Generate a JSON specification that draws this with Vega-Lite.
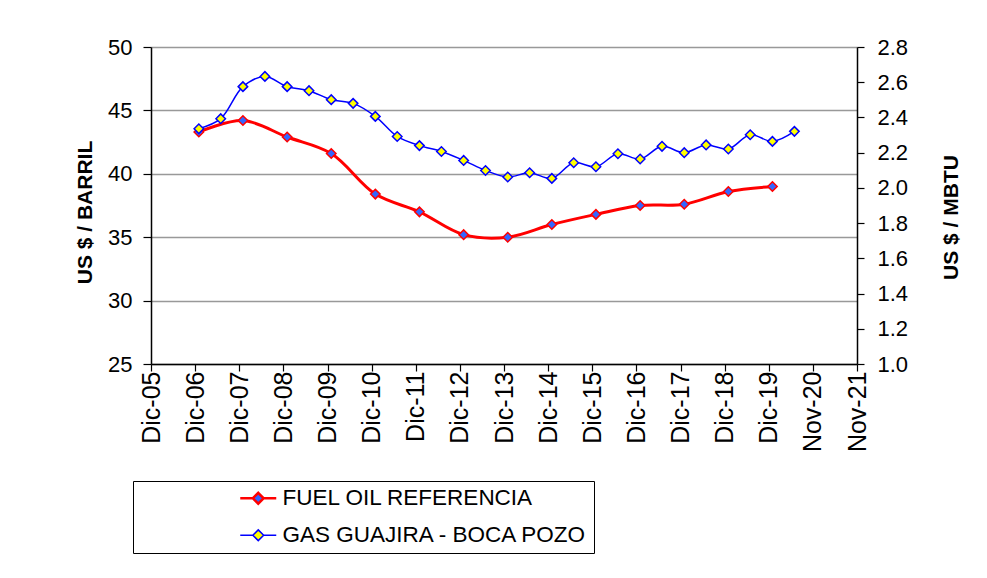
{
  "$schema": "https://vega.github.io/schema/vega-lite/v6.json",
  "width": 706,
  "height": 317,
  "autosize": "none",
  "padding": {"left": 151, "top": 47, "right": 130, "bottom": 214},
  "background": "white",
  "config": {
    "view": {"stroke": null},
    "font": "Liberation Sans",
    "axis": {"labelFont": "Liberation Sans", "labelColor": "black", "domainColor": "black", "tickColor": "black", "domainWidth": 1.5, "tickWidth": 1.2, "titleFont": "Liberation Sans", "titleColor": "black"}
  },
  "datasets": {
    "fuel": [
      {"date": "2007-01-01", "value": 43.3},
      {"date": "2008-01-01", "value": 44.2},
      {"date": "2009-01-01", "value": 42.9},
      {"date": "2010-01-01", "value": 41.6},
      {"date": "2011-01-01", "value": 38.4},
      {"date": "2012-01-01", "value": 37.0},
      {"date": "2013-01-01", "value": 35.2},
      {"date": "2014-01-01", "value": 35.0},
      {"date": "2015-01-01", "value": 36.0},
      {"date": "2016-01-01", "value": 36.8},
      {"date": "2017-01-01", "value": 37.5},
      {"date": "2018-01-01", "value": 37.6},
      {"date": "2019-01-01", "value": 38.6},
      {"date": "2020-01-01", "value": 39.0}
    ],
    "gas": [
      {"date": "2007-01-01", "value": 2.336},
      {"date": "2007-07-01", "value": 2.393},
      {"date": "2008-01-01", "value": 2.575},
      {"date": "2008-07-01", "value": 2.633},
      {"date": "2009-01-01", "value": 2.575},
      {"date": "2009-07-01", "value": 2.552},
      {"date": "2010-01-01", "value": 2.501},
      {"date": "2010-07-01", "value": 2.480},
      {"date": "2011-01-01", "value": 2.406},
      {"date": "2011-07-01", "value": 2.292},
      {"date": "2012-01-01", "value": 2.240},
      {"date": "2012-07-01", "value": 2.207},
      {"date": "2013-01-01", "value": 2.156},
      {"date": "2013-07-01", "value": 2.099},
      {"date": "2014-01-01", "value": 2.062},
      {"date": "2014-07-01", "value": 2.086},
      {"date": "2015-01-01", "value": 2.054},
      {"date": "2015-07-01", "value": 2.143},
      {"date": "2016-01-01", "value": 2.120},
      {"date": "2016-07-01", "value": 2.194},
      {"date": "2017-01-01", "value": 2.164},
      {"date": "2017-07-01", "value": 2.236},
      {"date": "2018-01-01", "value": 2.200},
      {"date": "2018-07-01", "value": 2.244},
      {"date": "2019-01-01", "value": 2.221},
      {"date": "2019-07-01", "value": 2.302},
      {"date": "2020-01-01", "value": 2.264},
      {"date": "2020-07-01", "value": 2.321}
    ]
  },
  "encoding": {
    "x": {
      "field": "date",
      "type": "temporal",
      "scale": {"type": "utc", "domain": [{"year": 2005, "month": 12, "date": 1, "utc": true}, {"year": 2021, "month": 12, "date": 1, "utc": true}]},
      "axis": {
        "title": null,
        "grid": false,
        "values": [
          {"year": 2005, "month": 12, "date": 1, "utc": true},
          {"year": 2006, "month": 12, "date": 1, "utc": true},
          {"year": 2007, "month": 12, "date": 1, "utc": true},
          {"year": 2008, "month": 12, "date": 1, "utc": true},
          {"year": 2009, "month": 12, "date": 1, "utc": true},
          {"year": 2010, "month": 12, "date": 1, "utc": true},
          {"year": 2011, "month": 12, "date": 1, "utc": true},
          {"year": 2012, "month": 12, "date": 1, "utc": true},
          {"year": 2013, "month": 12, "date": 1, "utc": true},
          {"year": 2014, "month": 12, "date": 1, "utc": true},
          {"year": 2015, "month": 12, "date": 1, "utc": true},
          {"year": 2016, "month": 12, "date": 1, "utc": true},
          {"year": 2017, "month": 12, "date": 1, "utc": true},
          {"year": 2018, "month": 12, "date": 1, "utc": true},
          {"year": 2019, "month": 12, "date": 1, "utc": true},
          {"year": 2020, "month": 12, "date": 1, "utc": true},
          {"year": 2021, "month": 12, "date": 1, "utc": true}
        ],
        "labelExpr": "(utcyear(datum.value) >= 2020 ? 'Nov-' : 'Dic-') + utcFormat(datum.value, '%y')",
        "labelAngle": -90,
        "labelFontSize": 25,
        "labelPadding": 0,
        "tickSize": 7,
        "labelOverlap": false,
        "labelFlush": false
      }
    }
  },
  "layer": [
    {
      "data": {"name": "fuel"},
      "encoding": {
        "y": {
          "field": "value",
          "type": "quantitative",
          "scale": {"domain": [25, 50], "nice": false, "zero": false},
          "axis": {
            "orient": "left",
            "values": [25, 30, 35, 40, 45, 50],
            "grid": true,
            "gridColor": "#999999",
            "gridWidth": 1.5,
            "labelFontSize": 22,
            "tickSize": 8,
            "labelPadding": 11,
            "title": "US $ / BARRIL",
            "titleFontSize": 21,
            "titleFontWeight": "bold",
            "titleAngle": 270,
            "titleX": -66,
            "titleY": 165,
            "titleAlign": "center",
            "titleBaseline": "middle"
          }
        }
      },
      "layer": [
        {
          "mark": {"type": "line", "interpolate": "catmull-rom", "strokeWidth": 3},
          "encoding": {
            "color": {
              "datum": "FUEL OIL REFERENCIA",
              "type": "nominal",
              "scale": {"domain": ["FUEL OIL REFERENCIA", "GAS GUAJIRA - BOCA POZO"], "range": ["#ff0000", "#0000ff"]},
              "legend": {
                "orient": "none",
                "legendX": -18,
                "legendY": 434,
                "title": null,
                "strokeColor": "black",
                "fillColor": "white",
                "padding": 6,
                "rowPadding": 14,
                "labelFontSize": 22.5,
                "labelFont": "Liberation Sans",
                "labelColor": "black",
                "labelLimit": 600,
                "symbolType": "M-1,0H-0.3M0.3,0H1M0,-0.3L0.3,0L0,0.3L-0.3,0Z",
                "symbolSize": 1296,
                "symbolOffset": 108,
                "labelOffset": 13,
                "encode": {
                  "symbols": {
                    "update": {
                      "fill": {"signal": "datum.value == 'FUEL OIL REFERENCIA' ? '#3366ff' : '#ffff00'"},
                      "strokeWidth": {"signal": "datum.value == 'FUEL OIL REFERENCIA' ? 2.5 : 1.5"},
                      "opacity": {"value": 1}
                    }
                  }
                }
              }
            }
          }
        },
        {
          "mark": {"type": "point", "shape": "diamond", "filled": true, "fill": "#3366ff", "stroke": "#ff0000", "strokeWidth": 1.5, "size": 90, "opacity": 1}
        }
      ]
    },
    {
      "data": {"name": "gas"},
      "encoding": {
        "y": {
          "field": "value",
          "type": "quantitative",
          "scale": {"domain": [1.0, 2.8], "nice": false, "zero": false},
          "axis": {
            "orient": "right",
            "values": [1.0, 1.2, 1.4, 1.6, 1.8, 2.0, 2.2, 2.4, 2.6, 2.8],
            "format": ".1f",
            "grid": false,
            "labelFontSize": 22,
            "tickSize": 7,
            "labelPadding": 13,
            "title": "US $ / MBTU",
            "titleFontSize": 21,
            "titleFontWeight": "bold",
            "titleAngle": 270,
            "titleX": 94,
            "titleY": 170,
            "titleAlign": "center",
            "titleBaseline": "middle"
          }
        }
      },
      "layer": [
        {
          "mark": {"type": "line", "interpolate": "catmull-rom", "strokeWidth": 1.5},
          "encoding": {
            "color": {"datum": "GAS GUAJIRA - BOCA POZO", "type": "nominal"}
          }
        },
        {
          "mark": {"type": "point", "shape": "diamond", "filled": true, "fill": "#ffff00", "stroke": "#0000ff", "strokeWidth": 1.5, "size": 90, "opacity": 1}
        }
      ]
    }
  ],
  "resolve": {"scale": {"y": "independent"}}
}
